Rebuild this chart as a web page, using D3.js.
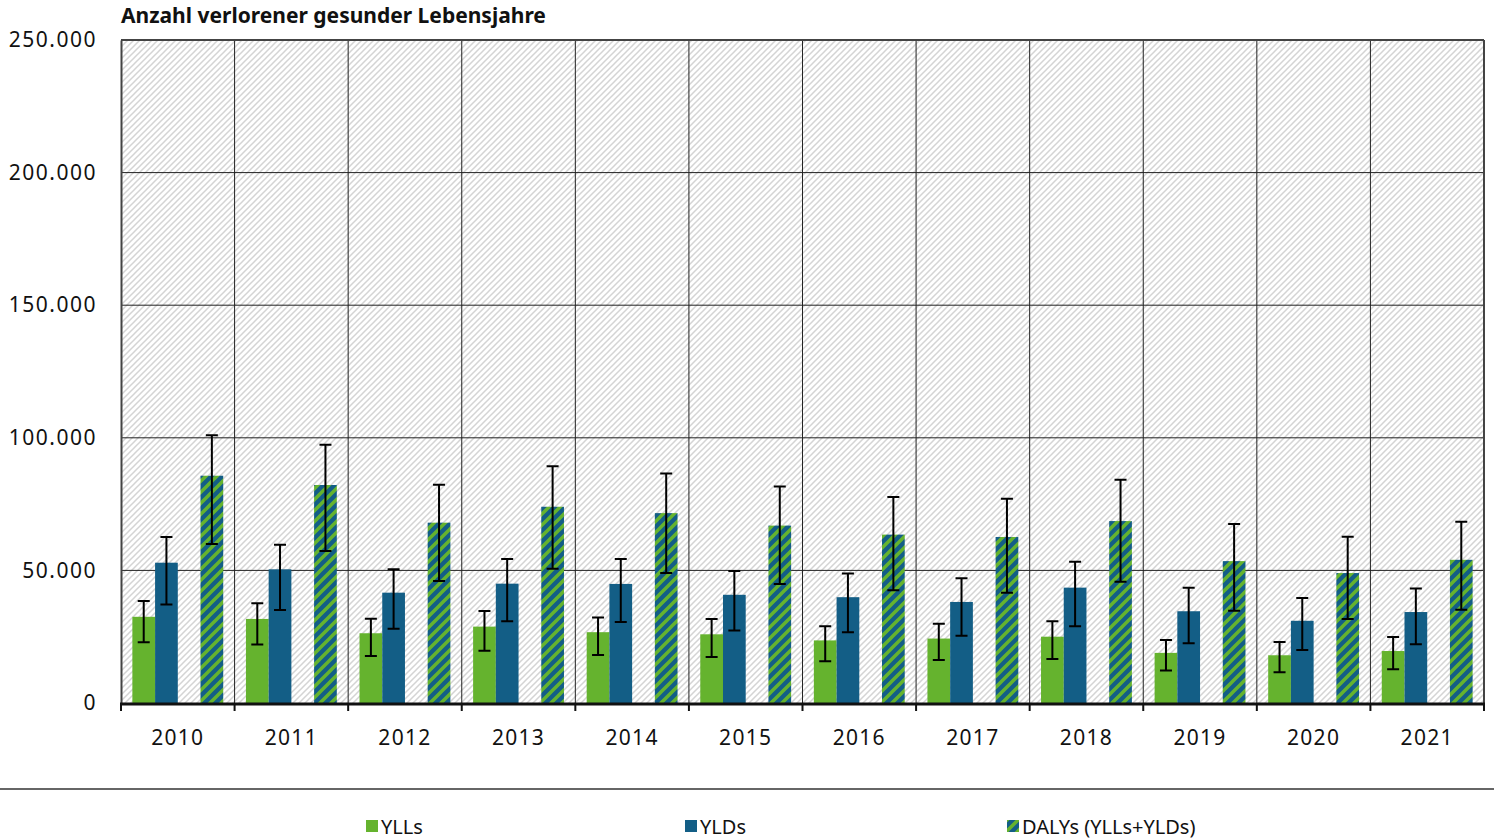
<!DOCTYPE html>
<html>
<head>
<meta charset="utf-8">
<script src="https://cdn.jsdelivr.net/npm/d3@7"></script>
<style>
  body { margin: 0; background: #fff; }
  svg { display: block; font-family: "Noto Sans", sans-serif; }
</style>
</head>
<body>
<svg id="chart" width="1494" height="839"></svg>
<script>
const years = ["2010","2011","2012","2013","2014","2015","2016","2017","2018","2019","2020","2021"];
const seriesNames = ["YLLs", "YLDs", "DALYs (YLLs+YLDs)"];

const yll     = [32500,31700,26300,28800,26700,25900,23600,24300,25000,18900,18000,19600];
const yllLow  = [22900,22100,17700,19700,18100,17300,15700,16200,16600,12300,11600,12700];
const yllHigh = [38500,37600,31800,34700,32200,31700,28900,29900,30800,23800,23000,24900];

const yld     = [52900,50400,41600,45000,44900,40800,39900,38100,43500,34600,31000,34300];
const yldLow  = [37100,35100,28000,30800,30500,27300,26700,25400,28900,22500,20000,22200];
const yldHigh = [62600,59700,50400,54300,54300,49800,48800,47000,53300,43500,39600,43200];

const daly     = [85700,82200,68000,74000,71600,66900,63500,62600,68600,53500,49000,54000];
const dalyLow  = [60000,57300,46000,50600,49000,44900,42500,41600,45700,34800,31700,35200];
const dalyHigh = [101000,97400,82300,89300,86500,81600,77700,77000,84200,67500,62700,68300];

const yTicks = [0, 50000, 100000, 150000, 200000, 250000];

var margin = {top: 40, right: 10, bottom: 135, left: 121},
    width = 1494, height = 839,
    plotRight = 1484, plotBottom = 703,
    green = "#65b32e", blue = "#135e86";

var svg = d3.select("#chart");
var defs = svg.append("defs");

// background hatch of plot area
var bg = defs.append("pattern").attr("id", "bgHatch")
    .attr("patternUnits", "userSpaceOnUse").attr("width", 6).attr("height", 6);
bg.append("rect").attr("width", 6).attr("height", 6).attr("fill", "#fff");
bg.append("path").attr("d", "M0,6 L6,0 M-1.5,1.5 L1.5,-1.5 M4.5,7.5 L7.5,4.5")
    .attr("stroke", "#d4d4d4").attr("stroke-width", 1.5);

// DALY stripes
var dp = defs.append("pattern").attr("id", "dalyHatch")
    .attr("patternUnits", "userSpaceOnUse").attr("width", 11).attr("height", 11);
dp.append("rect").attr("width", 11).attr("height", 11).attr("fill", blue);
dp.append("path").attr("d", "M0,11 L11,0 M-2.75,2.75 L2.75,-2.75 M8.25,13.75 L13.75,8.25")
    .attr("stroke", green).attr("stroke-width", 3.4);

var x = d3.scaleBand().domain(years).range([margin.left, plotRight]).padding(0);
var xs = d3.scaleBand().domain(["yll", "yld", "gap", "daly"])
    .range([0, x.bandwidth()]).paddingInner(0).paddingOuter(0.5);
var y = d3.scaleLinear().domain([0, 250000]).range([plotBottom, margin.top]);

var de = d3.formatLocale({decimal: ",", thousands: ".", grouping: [3], currency: ["", "€"]});
var fmt = de.format(",d");

// plot background
svg.append("rect")
    .attr("x", margin.left).attr("y", margin.top)
    .attr("width", plotRight - margin.left).attr("height", plotBottom - margin.top)
    .attr("fill", "url(#bgHatch)");

// grid
svg.append("g").selectAll("line").data(yTicks.filter(d => d > 0)).join("line")
    .attr("x1", margin.left).attr("x2", plotRight)
    .attr("y1", d => y(d)).attr("y2", d => y(d))
    .attr("stroke", "#222").attr("stroke-width", 1);
svg.append("g").selectAll("line").data(years.slice(1)).join("line")
    .attr("x1", d => x(d)).attr("x2", d => x(d))
    .attr("y1", margin.top).attr("y2", plotBottom)
    .attr("stroke", "#222").attr("stroke-width", 1);
svg.append("line").attr("x1", plotRight).attr("x2", plotRight)
    .attr("y1", margin.top).attr("y2", plotBottom).attr("stroke", "#444").attr("stroke-width", 2);
svg.append("line").attr("x1", margin.left).attr("x2", plotRight)
    .attr("y1", margin.top).attr("y2", margin.top).attr("stroke", "#444").attr("stroke-width", 2);

// bars
var series = [
    {key: "yll", vals: yll, lo: yllLow, hi: yllHigh, fill: green},
    {key: "yld", vals: yld, lo: yldLow, hi: yldHigh, fill: blue},
    {key: "daly", vals: daly, lo: dalyLow, hi: dalyHigh, fill: "url(#dalyHatch)"}
];

var gBars = svg.append("g");
series.forEach(function(s) {
    gBars.append("g").selectAll("rect").data(years).join("rect")
        .attr("x", d => x(d) + xs(s.key))
        .attr("width", xs.bandwidth())
        .attr("y", (d, i) => y(s.vals[i]))
        .attr("height", (d, i) => plotBottom - y(s.vals[i]))
        .attr("fill", s.fill);
});

// error bars
var gErr = svg.append("g").attr("stroke", "#000").attr("stroke-width", 2).attr("fill", "none");
series.forEach(function(s) {
    var cx = d => x(d) + xs(s.key) + xs.bandwidth() / 2;
    var g = gErr.append("g");
    g.selectAll("path").data(years).join("path")
        .attr("d", function(d, i) {
            var c = cx(d), t = y(s.hi[i]), b = y(s.lo[i]);
            return "M" + (c - 6) + "," + t + "H" + (c + 6) + "M" + c + "," + t + "V" + b +
                   "M" + (c - 6) + "," + b + "H" + (c + 6);
        });
});

// y axis
var yAxis = d3.axisLeft(y).tickValues(yTicks).tickFormat(fmt).tickSize(0).tickPadding(24);
var gy = svg.append("g").attr("transform", "translate(" + margin.left + ",0)").call(yAxis);
gy.select(".domain").attr("stroke", "#444").attr("stroke-width", 2);
gy.selectAll("text").attr("font-size", 21).attr("letter-spacing", 1.5)
    .attr("font-family", "Noto Sans").attr("fill", "#111");

// x axis
var xAxis = d3.axisBottom(x).tickSize(0).tickPadding(26);
var gx = svg.append("g").attr("transform", "translate(0," + (plotBottom + 1) + ")").call(xAxis);
gx.select(".domain").remove();
gx.selectAll("text").attr("font-size", 21).attr("letter-spacing", 1.3)
    .attr("font-family", "Noto Sans").attr("fill", "#111");
gx.append("line").attr("x1", margin.left - 1).attr("x2", plotRight + 1)
    .attr("stroke", "#111").attr("stroke-width", 3);
gx.selectAll(".bound").data(years.concat(["end"])).join("line").attr("class", "bound")
    .attr("x1", d => d === "end" ? plotRight : x(d))
    .attr("x2", d => d === "end" ? plotRight : x(d))
    .attr("y1", 0).attr("y2", 7)
    .attr("stroke", "#111").attr("stroke-width", 2);

// title
svg.append("text").attr("x", margin.left).attr("y", 23)
    .attr("font-size", 21).attr("font-weight", "bold").attr("fill", "#111")
    .text("Anzahl verlorener gesunder Lebensjahre");

// legend
svg.append("line").attr("x1", 0).attr("x2", width).attr("y1", 789).attr("y2", 789)
    .attr("stroke", "#333").attr("stroke-width", 1.5);
var legendX = [366, 685, 1007];
var legendFill = [green, blue, "url(#dalyHatch)"];
var lg = svg.append("g").selectAll("g").data(seriesNames).join("g")
    .attr("transform", (d, i) => "translate(" + legendX[i] + ",820)");
lg.append("rect").attr("width", 12).attr("height", 12).attr("fill", (d, i) => legendFill[i]);
lg.append("text").attr("x", 15).attr("y", 14).attr("font-size", 20)
    .attr("fill", "#111").text(d => d);
</script>
</body>
</html>
